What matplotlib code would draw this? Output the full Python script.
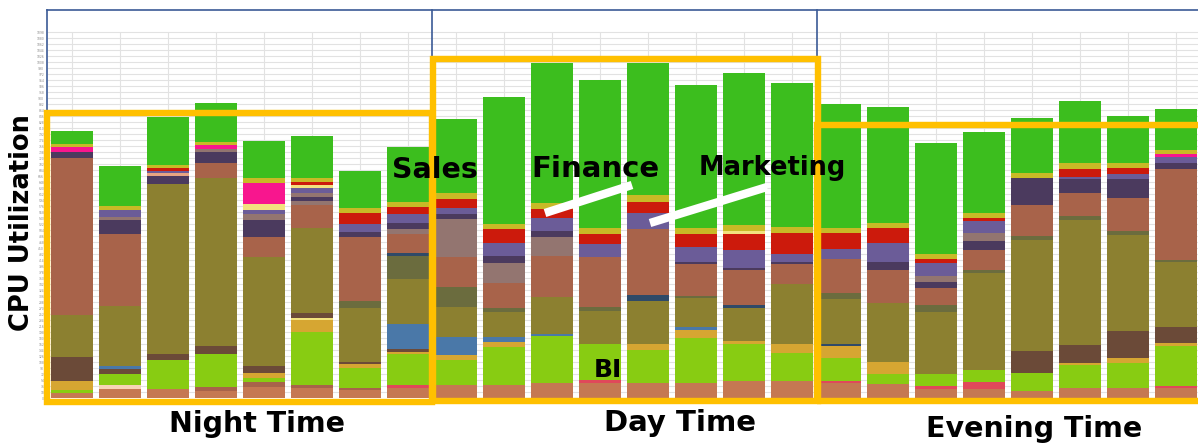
import matplotlib.pyplot as plt
from matplotlib.patches import Rectangle
from matplotlib.lines import Line2D

# segment colours
colors = {
    'base': '#C57852', 'pinkred': '#E0485A', 'bi': '#88CC12', 'gold': '#D6A632',
    'dbrown': '#6B4A38', 'olive': '#8C8030', 'dolive': '#6B6C3E', 'blue': '#4A78A8',
    'dblue': '#2F4A68', 'rust': '#A8634A', 'mauve': '#937570', 'dpurple': '#4B3A5E',
    'pblue': '#6B5C98', 'red': '#CC1A0C', 'pink': '#F8168E', 'lyellow': '#F2E27E',
    'cream': '#F6D4B4', 'salmon': '#E8A482', 'yellow': '#C8BA26', 'green': '#3CBE1E',
}

# each bar: (segment, height) from bottom to top
night_bars = [
    [('base', 5), ('bi', 3), ('gold', 9), ('dbrown', 24), ('olive', 42), ('rust', 157),
     ('dpurple', 6), ('pink', 5), ('yellow', 3), ('green', 13)],
    [('base', 9), ('cream', 4), ('bi', 11), ('dbrown', 5), ('blue', 3), ('olive', 60), ('rust', 72),
     ('dpurple', 14), ('mauve', 3), ('pblue', 7), ('yellow', 4), ('green', 40)],
    [('base', 9), ('bi', 29), ('dbrown', 6), ('olive', 170), ('dpurple', 8), ('salmon', 3),
     ('pblue', 2), ('red', 3), ('yellow', 3), ('green', 48)],
    [('base', 7), ('rust', 4), ('bi', 33), ('dbrown', 8), ('olive', 168), ('rust', 15),
     ('dpurple', 11), ('mauve', 3), ('pink', 4), ('yellow', 3), ('green', 39)],
    [('base', 11), ('rust', 5), ('bi', 4), ('gold', 5), ('dbrown', 7), ('olive', 109), ('rust', 20),
     ('dpurple', 17), ('mauve', 6), ('pblue', 4), ('lyellow', 6), ('pink', 21), ('yellow', 5),
     ('green', 37)],
    [('base', 10), ('rust', 3), ('bi', 53), ('gold', 12), ('lyellow', 2), ('dbrown', 5),
     ('olive', 85), ('rust', 23), ('mauve', 4), ('dpurple', 4), ('mauve', 4), ('pblue', 5),
     ('lyellow', 3), ('red', 3), ('yellow', 4), ('green', 42)],
    [('base', 8), ('rust', 2), ('bi', 20), ('gold', 4), ('dbrown', 2), ('olive', 54), ('dolive', 7),
     ('rust', 64), ('dpurple', 5), ('pblue', 8), ('red', 11), ('yellow', 5), ('green', 37)],
    [('base', 10), ('pinkred', 3), ('bi', 31), ('gold', 2), ('dbrown', 3), ('blue', 25),
     ('olive', 45), ('dolive', 23), ('dblue', 3), ('rust', 19), ('mauve', 5), ('dpurple', 6),
     ('pblue', 9), ('red', 7), ('yellow', 5), ('green', 55)],
]

day_bars = [
    [('base', 13), ('bi', 25), ('gold', 5), ('blue', 18), ('olive', 30), ('dolive', 20),
     ('rust', 30), ('mauve', 38), ('dpurple', 5), ('pblue', 6), ('red', 9), ('yellow', 6),
     ('green', 74)],
    [('base', 13), ('bi', 38), ('gold', 5), ('blue', 5), ('olive', 25), ('dolive', 4), ('rust', 25),
     ('mauve', 20), ('dpurple', 7), ('pblue', 13), ('red', 14), ('yellow', 5), ('green', 127)],
    [('base', 15), ('bi', 47), ('blue', 2), ('olive', 37), ('rust', 41), ('mauve', 19),
     ('dpurple', 6), ('pblue', 13), ('red', 9), ('yellow', 6), ('green', 140)],
    [('base', 15), ('pinkred', 3), ('bi', 36), ('olive', 33), ('dolive', 4), ('rust', 50),
     ('pblue', 13), ('red', 10), ('yellow', 6), ('green', 148)],
    [('base', 15), ('bi', 33), ('gold', 6), ('olive', 43), ('dblue', 6), ('rust', 66),
     ('pblue', 16), ('red', 11), ('yellow', 7), ('green', 132)],
    [('base', 15), ('bi', 45), ('gold', 8), ('blue', 3), ('olive', 29), ('dolive', 2), ('rust', 32),
     ('dpurple', 2), ('pblue', 15), ('red', 13), ('yellow', 6), ('green', 143)],
    [('base', 17), ('bi', 37), ('gold', 3), ('olive', 33), ('dblue', 3), ('rust', 35),
     ('dpurple', 2), ('pblue', 18), ('red', 16), ('lyellow', 3), ('yellow', 6), ('green', 152)],
    [('base', 17), ('bi', 28), ('gold', 9), ('olive', 60), ('rust', 20), ('dpurple', 2),
     ('pblue', 8), ('red', 21), ('yellow', 6), ('green', 144)],
]

evening_bars = [
    [('base', 15), ('pinkred', 2), ('bi', 23), ('gold', 12), ('dblue', 2), ('olive', 45),
     ('dolive', 6), ('rust', 34), ('pblue', 10), ('red', 16), ('yellow', 5), ('green', 124)],
    [('base', 14), ('bi', 10), ('gold', 12), ('olive', 59), ('rust', 33), ('dpurple', 8),
     ('pblue', 19), ('red', 15), ('yellow', 5), ('green', 116)],
    [('base', 9), ('pinkred', 3), ('bi', 12), ('olive', 62), ('dolive', 7), ('rust', 17),
     ('dpurple', 6), ('mauve', 6), ('pblue', 13), ('red', 4), ('yellow', 5), ('green', 111)],
    [('base', 9), ('pinkred', 7), ('bi', 12), ('olive', 97), ('dolive', 3), ('rust', 20),
     ('dpurple', 9), ('mauve', 8), ('pblue', 12), ('red', 3), ('yellow', 5), ('green', 81)],
    [('base', 7), ('bi', 18), ('dbrown', 22), ('olive', 111), ('dolive', 4), ('rust', 31),
     ('dpurple', 27), ('yellow', 5), ('green', 55)],
    [('base', 10), ('bi', 23), ('gold', 2), ('dbrown', 18), ('olive', 125), ('dolive', 4),
     ('rust', 23), ('dpurple', 14), ('pblue', 2), ('red', 8), ('yellow', 6), ('green', 62)],
    [('base', 10), ('bi', 25), ('gold', 5), ('dbrown', 27), ('olive', 96), ('dolive', 4),
     ('rust', 33), ('dpurple', 19), ('pblue', 5), ('red', 6), ('yellow', 5), ('green', 47)],
    [('base', 10), ('pinkred', 2), ('bi', 40), ('gold', 3), ('dbrown', 16), ('olive', 65),
     ('dolive', 2), ('rust', 91), ('dpurple', 6), ('pblue', 6), ('pink', 3), ('yellow', 4),
     ('green', 41)],
]

period_labels = ['Night Time', 'Day Time', 'Evening Time']
team_labels = ['Sales', 'Finance', 'Marketing', 'BI']
y_ticks = list(range(0, 367, 6))

W, H = 1198, 446
fig = plt.figure(figsize=(W / 100, H / 100), dpi=100)
ax = fig.add_axes([47 / W, (H - 398) / H, (W - 47) / W, (398 - 10) / H])

def fx(px):
    return px / W

def fy(py):
    return 1 - py / H

# stacked bars
all_bars = night_bars + day_bars + evening_bars
for i, segs in enumerate(all_bars):
    bottom = 0
    for name, h in segs:
        ax.bar(i, h, bottom=bottom, width=0.875, color=colors[name], linewidth=0, zorder=3)
        bottom += h

ax.set_xlim(-0.521, 23.458)
ax.set_ylim(0, 388)

# light sheet-style grid, stopping below the table header
ax.hlines(y_ticks, -0.521, 23.458, color='#E2E2E2', linewidth=0.8, zorder=0)
ax.vlines(range(len(all_bars)), 0, y_ticks[-1], color='#E2E2E2', linewidth=0.8, zorder=0)

ax.set_xticks([])
ax.set_yticks(y_ticks)
ax.set_yticklabels([str(v * 3) for v in y_ticks], fontsize=2.2, color='#888888')
ax.tick_params(length=0, pad=2)
for s in ax.spines.values():
    s.set_visible(False)

# blue table border behind the chart
blue = '#3B5A96'
fig.add_artist(Line2D([fx(47), 1], [fy(10), fy(10)], color=blue, linewidth=1.2, zorder=1))
for px in [47, 432, 817]:
    fig.add_artist(Line2D([fx(px), fx(px)], [fy(10), fy(398)], color=blue, linewidth=1.2, zorder=1))

# orange period boxes
orange = '#FFC000'
boxes = [(47, 113, 432, 402), (433, 59, 818, 401), (817, 125, 1215, 401)]
for x0, y0, x1, y1 in boxes:
    fig.add_artist(Rectangle((fx(x0), fy(y1)), fx(x1 - x0), (y1 - y0) / H, fill=False,
                             edgecolor=orange, linewidth=4.6, zorder=5))

# white pointer lines
for (x0, y0, x1, y1) in [(545, 213, 632, 185), (650, 223, 767, 187)]:
    fig.add_artist(Line2D([fx(x0), fx(x1)], [fy(y0), fy(y1)], color='white', linewidth=6,
                          solid_capstyle='butt', zorder=6))

# labels
fig.text(fx(22), fy(223), 'CPU Utilization', rotation=90, ha='center', va='center',
         fontsize=18.5, fontweight='bold', zorder=7)
for label, px, py, fs in zip(period_labels, [257, 680, 1034], [432, 431, 437], [20.5, 21, 20.5]):
    fig.text(fx(px), fy(py), label, ha='center', va='baseline', fontsize=fs,
             fontweight='bold', zorder=7)
for label, px, py, fs in zip(team_labels, [435, 595, 772, 608], [178, 177, 175, 377],
                             [20.5, 21, 18.5, 18]):
    fig.text(fx(px), fy(py), label, ha='center', va='baseline', fontsize=fs,
             fontweight='bold', zorder=7)

fig.savefig('out.png', dpi=100)
